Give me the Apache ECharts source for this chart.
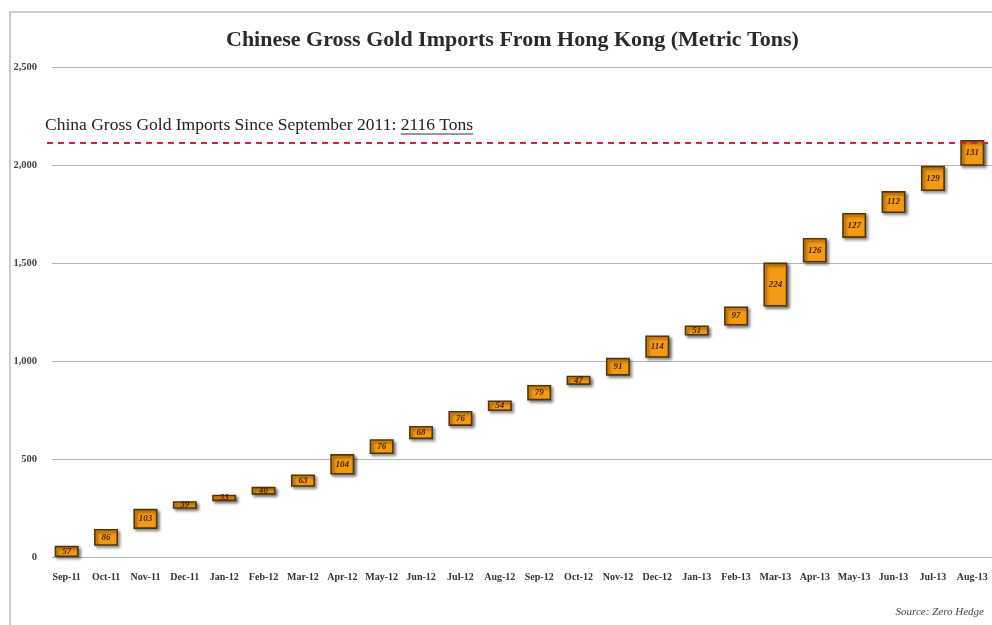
<!DOCTYPE html>
<html>
<head>
<meta charset="utf-8">
<title>Chinese Gross Gold Imports From Hong Kong</title>
<script src="https://cdn.jsdelivr.net/npm/echarts@6/dist/echarts.min.js"></script>
<style>
  html, body { margin: 0; padding: 0; background: #fff; }
  #chart { width: 992px; height: 625px; }
</style>
</head>
<body>
<div id="chart"></div>
<script>
// Monthly gross imports (metric tons)
const months = ['Sep-11','Oct-11','Nov-11','Dec-11','Jan-12','Feb-12','Mar-12','Apr-12','May-12','Jun-12','Jul-12','Aug-12',
                'Sep-12','Oct-12','Nov-12','Dec-12','Jan-13','Feb-13','Mar-13','Apr-13','May-13','Jun-13','Jul-13','Aug-13'];
const imports = [57, 86, 103, 39, 33, 40, 63, 104, 76, 68, 76, 54, 79, 47, 91, 114, 51, 97, 224, 126, 127, 112, 129, 131];
const totalSinceSep2011 = 2116;
const yTicks = [0, 500, 1000, 1500, 2000, 2500];

// Waterfall: invisible base = running total before each month
const base = [];
let running = 0;
imports.forEach(v => { base.push(running); running += v; });

const serif = '"Liberation Serif", "DejaVu Serif", serif';
const chart = echarts.init(document.getElementById('chart'), null, { renderer: 'canvas' });

// Measure the annotation so the underline sits under "2116 Tons"
const annFont = '17.5px ' + serif;
const annPrefix = 'China Gross Gold Imports Since September 2011: ';
const annValue = totalSinceSep2011 + ' Tons';
const ctx = document.createElement('canvas').getContext('2d');
ctx.font = annFont;
const prefixW = ctx.measureText(annPrefix).width;
const valueW = ctx.measureText(annValue).width;
const annX = 45, annY = 132;

chart.setOption({
  animation: false,
  backgroundColor: '#fff',
  title: {
    text: 'Chinese Gross Gold Imports From Hong Kong (Metric Tons)',
    left: 221,
    top: 24,
    textStyle: { fontFamily: serif, fontSize: 22, fontWeight: 'bold', color: '#2a2a2a' }
  },
  grid: [
    { left: 52, right: 0, top: 67, bottom: 68 },
    { left: 47, width: 948, top: 67, bottom: 68 }
  ],
  xAxis: [
    { gridIndex: 0, type: 'category', data: months, show: false },
    {
      gridIndex: 1, type: 'category', data: months,
      axisLine: { show: false }, axisTick: { show: false },
      axisLabel: { interval: 0, margin: 15, fontFamily: serif, fontSize: 10, fontWeight: 'bold', color: '#333' }
    }
  ],
  yAxis: [
    {
      gridIndex: 0, type: 'value', min: 0, max: 2500, interval: 500,
      axisLine: { show: false }, axisTick: { show: false },
      splitLine: { lineStyle: { color: '#b4b4b4', width: 1.2 } },
      axisLabel: {
        margin: 15, fontFamily: serif, fontSize: 10.5, fontWeight: 'bold', color: '#444',
        formatter: v => yTicks.includes(v) ? v.toLocaleString('en-US') : ''
      }
    },
    { gridIndex: 1, type: 'value', min: 0, max: 2500, interval: 500, show: false }
  ],
  series: [
    {
      type: 'bar', xAxisIndex: 0, yAxisIndex: 0, data: [], silent: true
    },
    {
      name: 'base', type: 'bar', stack: 'wf', xAxisIndex: 1, yAxisIndex: 1,
      data: base, barWidth: 24, itemStyle: { color: 'transparent' }, silent: true
    },
    {
      name: 'Gross imports', type: 'bar', stack: 'wf', xAxisIndex: 1, yAxisIndex: 1,
      data: imports, barWidth: 24,
      itemStyle: {
        color: '#f39a14', borderColor: '#553505', borderWidth: 1.6,
        shadowColor: 'rgba(0,0,0,0.5)', shadowBlur: 3, shadowOffsetX: 2, shadowOffsetY: 2
      },
      label: {
        show: true, position: 'inside',
        fontFamily: serif, fontStyle: 'italic', fontWeight: 'bold', fontSize: 9, color: '#4a2600'
      },
      markLine: {
        silent: true, symbol: 'none',
        label: { show: false },
        lineStyle: { color: '#d7213f', type: [6, 5], width: 2 },
        data: [{ yAxis: totalSinceSep2011 }]
      }
    }
  ],
  graphic: [
    { type: 'polyline', shape: { points: [[10, 625], [10, 12], [992, 12]] },
      style: { stroke: '#bdbdbd', lineWidth: 1.5, fill: null }, z: 1 },
    { type: 'text', left: annX, top: annY - 16,
      style: { text: annPrefix + annValue, font: annFont, fill: '#222' } },
    { type: 'line', shape: { x1: annX + prefixW, y1: annY + 2, x2: annX + prefixW + valueW, y2: annY + 2 },
      style: { stroke: '#333', lineWidth: 1 } },
    { type: 'text', right: 8, top: 607,
      style: { text: 'Source: Zero Hedge', font: 'italic 11px ' + serif, fill: '#444' } }
  ]
});
</script>
</body>
</html>
